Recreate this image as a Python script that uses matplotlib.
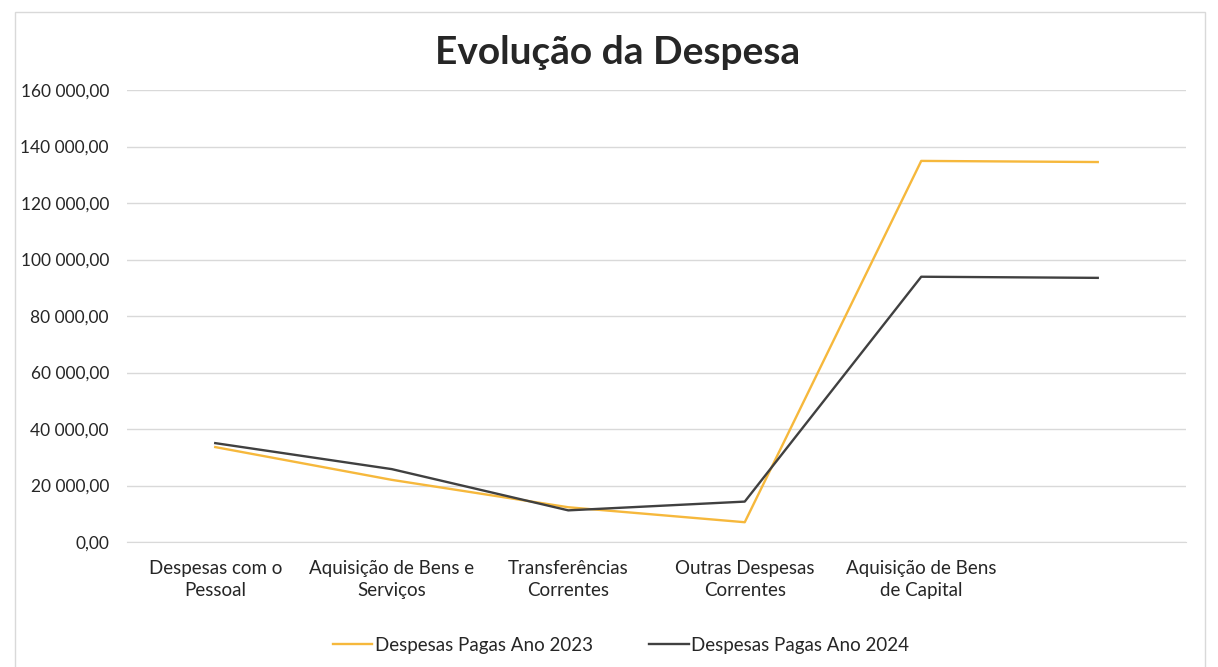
import matplotlib.pyplot as plt
from matplotlib.ticker import FuncFormatter, MultipleLocator
from matplotlib.patches import Rectangle

categorias = [
    "Despesas com o\nPessoal",
    "Aquisição de Bens e\nServiços",
    "Transferências\nCorrentes",
    "Outras Despesas\nCorrentes",
    "Aquisição de Bens\nde Capital",
    "",
]
pagas_2023 = [33600, 22000, 12300, 7000, 134900, 134500]
pagas_2024 = [35000, 25800, 11200, 14300, 93900, 93500]

plt.rcParams['font.family'] = ['Lato', 'DejaVu Sans']

fig = plt.figure(figsize=(12.18, 6.67), dpi=100)
# moldura da área do gráfico
fig.patches.append(Rectangle((15 / 1218, -0.01), 1190 / 1218, 1 - 12 / 667 + 0.01,
                             transform=fig.transFigure, fill=False,
                             edgecolor="#d9d9d9", linewidth=1))

ax = fig.add_axes([127 / 1218, 1 - 542 / 667, 1059 / 1218, 452 / 667])

x = list(range(len(categorias)))
ax.plot(x, pagas_2023, color="#f6b83c", linewidth=1.7, label="Despesas Pagas Ano 2023")
ax.plot(x, pagas_2024, color="#404040", linewidth=1.7, label="Despesas Pagas Ano 2024")

ax.set_xlim(-0.5, len(categorias) - 0.5)
ax.set_ylim(0, 160000)
ax.yaxis.set_major_locator(MultipleLocator(20000))
ax.yaxis.set_major_formatter(FuncFormatter(lambda v, p: f"{v:,.2f}".replace(",", " ").replace(".", ",")))
ax.set_xticks(x)
ax.set_xticklabels(categorias, fontsize=13.5, color="#262626", linespacing=1.35)
ax.tick_params(axis="y", labelsize=12.5, colors="#262626", length=0, pad=13)
ax.tick_params(axis="x", length=0, pad=13)

ax.grid(axis="y", color="#d9d9d9", linewidth=1)
ax.set_axisbelow(True)
for s in ["top", "right", "left"]:
    ax.spines[s].set_visible(False)
ax.spines["bottom"].set_color("#d9d9d9")

fig.text(618 / 1218, 1 - 53 / 667, "Evolução da Despesa", ha="center", va="center",
         fontsize=28, fontweight="bold", color="#262626")

fig.legend(loc="center", bbox_to_anchor=(621 / 1218, 1 - 645 / 667), ncol=2, frameon=False,
           fontsize=13.5, handlelength=2.1, handletextpad=0.15, columnspacing=3.0,
           labelcolor="#262626")

fig.savefig("out.png", dpi=100)
